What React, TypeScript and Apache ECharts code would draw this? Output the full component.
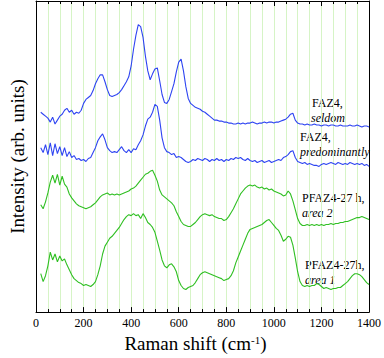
import React, { useEffect, useRef } from "react";
import * as echarts from "echarts";

// Raman shift (cm^-1)
const shifts = [
  20, 30, 40, 50, 60, 70, 80, 90, 100, 110,
  120, 130, 140, 150, 160, 170, 180, 190, 200, 210,
  220, 230, 240, 250, 260, 270, 280, 290, 300, 310,
  320, 330, 340, 350, 360, 370, 380, 390, 400, 410,
  420, 430, 440, 450, 460, 470, 480, 490, 500, 510,
  520, 530, 540, 550, 560, 570, 580, 590, 600, 610,
  620, 630, 640, 650, 660, 670, 680, 690, 700, 710,
  720, 730, 740, 750, 760, 770, 780, 790, 800, 810,
  820, 830, 840, 850, 860, 870, 880, 890, 900, 910,
  920, 930, 940, 950, 960, 970, 980, 990, 1000, 1010,
  1020, 1030, 1040, 1050, 1060, 1070, 1080, 1090, 1100, 1110,
  1120, 1130, 1140, 1150, 1160, 1170, 1180, 1190, 1200, 1210,
  1220, 1230, 1240, 1250, 1260, 1270, 1280, 1290, 1300, 1310,
  1320, 1330, 1340, 1350, 1360, 1370, 1380, 1390, 1400,
];

// FAZ4, seldom (offset intensity, arb. units)
const fazSeldom = [
  203, 201, 199, 197, 193, 198, 191, 195, 199, 201,
  205, 207, 203, 205, 201, 203, 202, 205, 212, 216,
  218, 220, 225, 232, 237, 241, 241, 234, 226, 220,
  219, 220, 221, 223, 226, 230, 234, 239, 250, 267,
  281, 292, 290, 279, 260, 245, 236, 242, 247, 248,
  235, 221, 213, 212, 216, 224, 232, 244, 254, 257,
  245, 229, 217, 212, 210, 208, 207, 206, 204, 203,
  201, 199, 197, 195, 195, 194, 194, 193, 193, 192,
  192, 191, 191, 192, 191, 192, 191, 192, 192, 193,
  192, 191, 192, 192, 193, 192, 193, 193, 192, 193,
  193, 194, 195, 196, 198, 201, 202, 195, 192, 191,
  191, 190, 191, 190, 190, 191, 190, 190, 189, 190,
  190, 189, 190, 190, 189, 189, 190, 189, 189, 189,
  190, 189, 189, 190, 189, 188, 189, 189, 188,
];

// FAZ4, predominantly
const fazPredominantly = [
  167, 162, 170, 160, 172, 159, 171, 161, 168, 159,
  167, 158, 163, 157, 159, 155, 156, 154, 155, 153,
  156, 157, 162, 167, 174, 178, 181, 175, 167, 164,
  162, 163, 162, 165, 168, 164, 162, 165, 162, 166,
  165, 170, 174, 180, 189, 196, 198, 203, 211, 209,
  195, 177, 167, 163, 162, 160, 161, 157, 158, 157,
  155, 153, 152, 153, 155, 154, 156, 155, 154, 156,
  155, 153, 155, 154, 156, 154, 155, 153, 155, 154,
  156, 155, 157, 156, 157, 155, 154, 156, 154, 153,
  154, 152, 153, 154, 152, 153, 154, 152, 153, 154,
  155, 154, 157, 158, 160, 163, 164, 157, 153, 152,
  151, 152, 150, 151, 150, 149, 149, 148, 150, 151,
  150, 151, 152, 151, 150, 152, 151, 150, 151, 150,
  152, 151, 150, 151, 150, 151, 149, 150, 148,
];

// PFAZ4-27 h, area 2
const pfazArea2 = [
  109, 105, 112, 121, 132, 139, 131, 140, 129, 138,
  130, 127, 120, 116, 113, 110, 108, 107, 106, 105,
  106, 107, 109, 111, 114, 117, 119, 120, 121, 119,
  120, 119, 120, 119, 120, 121, 122, 123, 125, 126,
  128, 131, 134, 137, 140, 141, 143, 144, 139, 133,
  124, 119, 117, 115, 113, 111, 108, 102, 97, 92,
  89, 88, 87, 87, 89, 91, 94, 97, 99, 100,
  99, 98, 99, 97, 96, 95, 95, 93, 94, 97,
  101, 105, 110, 115, 120, 123, 126, 128, 129, 128,
  129, 127, 126, 127, 125, 126, 124, 125, 123, 122,
  121, 120, 118, 119, 123, 120, 113, 104, 95, 90,
  88, 88, 89, 88, 89, 88, 89, 88, 89, 88,
  89, 89, 90, 89, 90, 90, 91, 91, 92, 92,
  93, 94, 95, 96, 96, 97, 96, 95, 94,
];

// PFAZ4-27h, area 1
const pfazArea1 = [
  39, 31, 37, 47, 61, 53, 59, 51, 57, 52,
  54, 48, 43, 38, 34, 32, 30, 29, 27, 28,
  27, 26, 28, 31, 38, 47, 59, 67, 71, 75,
  77, 80, 83, 86, 90, 94, 97, 99, 98, 100,
  98, 99, 95, 100, 96, 91, 89, 86, 81, 72,
  63, 53, 47, 45, 48, 49, 46, 41, 32, 27,
  24, 23, 25, 26, 27, 30, 34, 38, 40, 41,
  40, 39, 38, 37, 36, 35, 34, 32, 33, 34,
  37, 42, 50, 56, 62, 68, 74, 80, 84, 85,
  86, 87, 88, 89, 91, 93, 94, 91, 88, 85,
  83, 78, 72, 74, 77, 76, 68, 55, 41, 31,
  27, 26, 27, 26, 27, 27, 29, 28, 26, 24,
  25, 24, 23, 24, 24, 25, 25, 27, 29, 31,
  34, 37, 39, 39, 38, 36, 33, 30, 28,
];

const SERIF = '"Liberation Serif", "Times New Roman", serif';
const BLUE = "#2e44f2";
const GREEN = "#2fbf22";
const GRIDGREEN = "#d6f4c6";

const pairs = (ys: number[]) => shifts.map((x, i) => [x, ys[i]]);

export default function App() {
  const ref = useRef<HTMLDivElement>(null);

  useEffect(() => {
    if (!ref.current) return;
    const chart = echarts.init(ref.current, undefined, { renderer: "svg" });

    const tickCommon = {
      type: "value" as const,
      min: 0,
      max: 1400,
      interval: 200,
      axisLine: { show: true, onZero: false, lineStyle: { color: "#000", width: 1 } },
      axisTick: { show: true, inside: true, length: 5, lineStyle: { color: "#000" } },
      minorTick: { show: true, splitNumber: 4, length: 3, lineStyle: { color: "#000" } },
    };

    const label = (text: string, x: number, y: number, italic = false) => ({
      type: "text",
      x,
      y,
      silent: true,
      style: {
        text,
        font: `${italic ? "italic " : ""}12px ${SERIF}`,
        fill: "#000",
        align: "left",
        verticalAlign: "middle",
      },
    });

    chart.setOption({
      animation: false,
      backgroundColor: "#fff",
      grid: { left: 27, right: 13, top: 1, bottom: 41, containLabel: false },
      xAxis: [
        {
          ...tickCommon,
          position: "bottom",
          axisLabel: {
            show: true,
            fontFamily: SERIF,
            fontSize: 12,
            color: "#000",
            margin: 5,
            formatter: (v: number) => String(v),
          },
          splitLine: { show: true, lineStyle: { color: GRIDGREEN, width: 1 } },
          minorSplitLine: { show: true, lineStyle: { color: GRIDGREEN, width: 1 } },
          name: "{a|Raman shift (cm}{b|-1}{a|)}",
          nameLocation: "middle",
          nameGap: 19,
          nameTextStyle: {
            fontFamily: SERIF,
            fontSize: 19,
            color: "#000",
            padding: [0, 14, 0, 0],
            rich: {
              a: { fontFamily: SERIF, fontSize: 19, color: "#000" },
              b: { fontFamily: SERIF, fontSize: 11, color: "#000", verticalAlign: "top" },
            },
          },
        },
        {
          ...tickCommon,
          position: "top",
          axisLabel: { show: false },
          splitLine: { show: false },
        },
      ],
      yAxis: [
        {
          type: "value",
          min: 0,
          max: 316,
          position: "left",
          axisLine: { show: true, onZero: false, lineStyle: { color: "#000", width: 1 } },
          axisTick: { show: false },
          axisLabel: { show: false },
          splitLine: { show: false },
          name: "Intensity (arb. units)",
          nameLocation: "middle",
          nameGap: 9,
          nameRotate: 90,
          nameTextStyle: { fontFamily: SERIF, fontSize: 19, color: "#000" },
        },
        {
          type: "value",
          min: 0,
          max: 316,
          position: "right",
          axisLine: { show: true, onZero: false, lineStyle: { color: "#000", width: 1 } },
          axisTick: { show: false },
          axisLabel: { show: false },
          splitLine: { show: false },
        },
      ],
      series: [
        { name: "FAZ4, seldom", data: pairs(fazSeldom), color: BLUE },
        { name: "FAZ4, predominantly", data: pairs(fazPredominantly), color: BLUE },
        { name: "PFAZ4-27 h, area 2", data: pairs(pfazArea2), color: GREEN },
        { name: "PFAZ4-27h, area 1", data: pairs(pfazArea1), color: GREEN },
      ].map((s) => ({
        type: "line",
        name: s.name,
        data: s.data,
        xAxisIndex: 0,
        yAxisIndex: 0,
        showSymbol: false,
        symbol: "none",
        smooth: false,
        lineStyle: { color: s.color, width: 1.1 },
        itemStyle: { color: s.color },
        z: 3,
      })),
      graphic: [
        label("FAZ4,", 312, 103),
        label("seldom", 311, 118, true),
        label("FAZ4,", 300, 137),
        label("predominantly", 300, 152, true),
        label("PFAZ4-27 h,", 302, 198),
        label("area 2", 302, 213, true),
        label("PFAZ4-27h,", 305, 265),
        label("area 1", 305, 280, true),
      ],
    });

    return () => chart.dispose();
  }, []);

  return (
    <div
      ref={ref}
      style={{ position: "absolute", left: 0, top: 0, width: 384, height: 358 }}
    />
  );
}
